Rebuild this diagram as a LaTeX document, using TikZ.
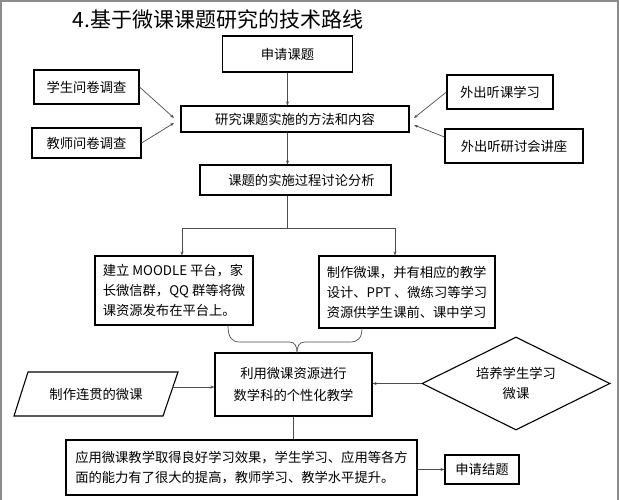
\documentclass[tikz,border=0pt]{standalone}
\usepackage{fontspec}
\setmainfont{Noto Sans CJK SC}
\usetikzlibrary{arrows.meta,shapes.geometric,calc}
\begin{document}
\begin{tikzpicture}[x=1pt,y=-1pt,
  txt/.style={font=\fontsize{13.3}{20}\selectfont},
  box/.style={txt,draw=black,line width=1.1pt,inner sep=0pt},
  conn/.style={draw=black!70,line width=0.7pt},
  arr/.style={conn,-{Stealth[length=4pt,width=3pt]}}]
\useasboundingbox (0,0) rectangle (619,500);
\fill[white] (0,0) rectangle (619,500);
\draw[black!45,line width=2pt] (1,500) -- (1,1) -- (618,1) -- (618,500);

\node[font=\fontsize{21}{24}\selectfont] (title) at (218,19) {4.基于微课课题研究的技术路线};

\node[box,minimum width=130,minimum height=36] (apply) at (287.5,54) {申请课题};
\node[box,minimum width=105,minimum height=34] (student) at (86.5,87) {学生问卷调查};
\node[box,minimum width=109,minimum height=30] (teacher) at (86.5,143) {教师问卷调查};
\node[box,minimum width=228,minimum height=26] (main) at (295,119) {研究课题实施的方法和内容};
\node[box,minimum width=106,minimum height=34] (out1) at (500,92) {外出听课学习};
\node[box,minimum width=138,minimum height=34] (out2) at (514,146) {外出听研讨会讲座};
\node[box,minimum width=191,minimum height=30] (disc) at (295.5,180) {\hspace*{12pt}课题的实施过程讨论分析};
\node[box,minimum width=158,minimum height=69,align=left] (mood) at (174,290.5)
  {建立 MOODLE 平台，家\\长微信群，QQ 群等将微\\课资源发布在平台上。};
\node[box,minimum width=176,minimum height=72,align=left] (make) at (407,292)
  {制作微课，并有相应的教学\\设计、PPT 、微练习等学习\\资源供学生课前、课中学习};
\node[box,minimum width=157,minimum height=63,align=center,font=\fontsize{13.3}{22}\selectfont] (merge) at (293.5,384.5)
  {利用微课资源进行\\数学科的个性化教学};
\draw[draw=black,line width=1.1pt] (28,372) -- (178,372) -- (163,416) -- (14,416) -- cycle;
\node[txt] (para) at (96,394) {制作连贯的微课};
\node[box,diamond,aspect=2,minimum width=188,minimum height=93,align=center] (dia) at (516,383.5)
  {培养学生学习\\微课};
\node[box,minimum width=351,minimum height=55,align=left] (bottom) at (241.5,467.5)
  {应用微课教学取得良好学习效果，学生学习、应用等各方\\面的能力有了很大的提高，教师学习、教学水平提升。};
\node[box,minimum width=74,minimum height=29] (endb) at (482,469.5) {申请结题};

\coordinate (lt1) at (174,118);
\coordinate (lt2) at (174,123);
\coordinate (rt1) at (414,118);
\coordinate (rt2) at (414,125);
\coordinate (split) at (287.5,228);
\coordinate (sl) at (182,228);
\coordinate (sr) at (395,228);
\coordinate (bl) at (228,325);
\coordinate (br) at (362,328);
\coordinate (paraR) at (172,387);

\draw[arr] (apply.south) -- (apply.south |- main.north);
\draw[arr] (student.east) -- (lt1);
\draw[arr] (teacher.east) -- (lt2);
\draw[arr] (out1.west) -- (rt1);
\draw[arr] ($(out2.west)+(0,-9)$) -- (rt2);
\draw[arr] (main.south -| apply) -- (disc.north -| apply);
\draw[conn] (disc.south -| split) -- (split);
\draw[conn] (sl) -- (sr);
\draw[arr] (sl) -- (sl |- mood.north);
\draw[arr] (sr) -- (sr |- make.north);
\draw[conn] (bl) .. controls (228,338) and (232,342) .. (240,342) -- (289,342)
  .. controls (295,342) and (297,346) .. (297,353)
  .. controls (297,346) and (299,342) .. (305,342) -- (350,342)
  .. controls (358,342) and (362,338) .. (br);
\draw[arr] (paraR) -- (paraR -| merge.west);
\draw[arr] (dia.west) -- (dia.west -| merge.east);
\draw[conn] (merge.south) -- (merge.south |- bottom.north);
\draw[arr] (endb.west -| bottom.east) -- (endb.west);
\end{tikzpicture}
\end{document}
